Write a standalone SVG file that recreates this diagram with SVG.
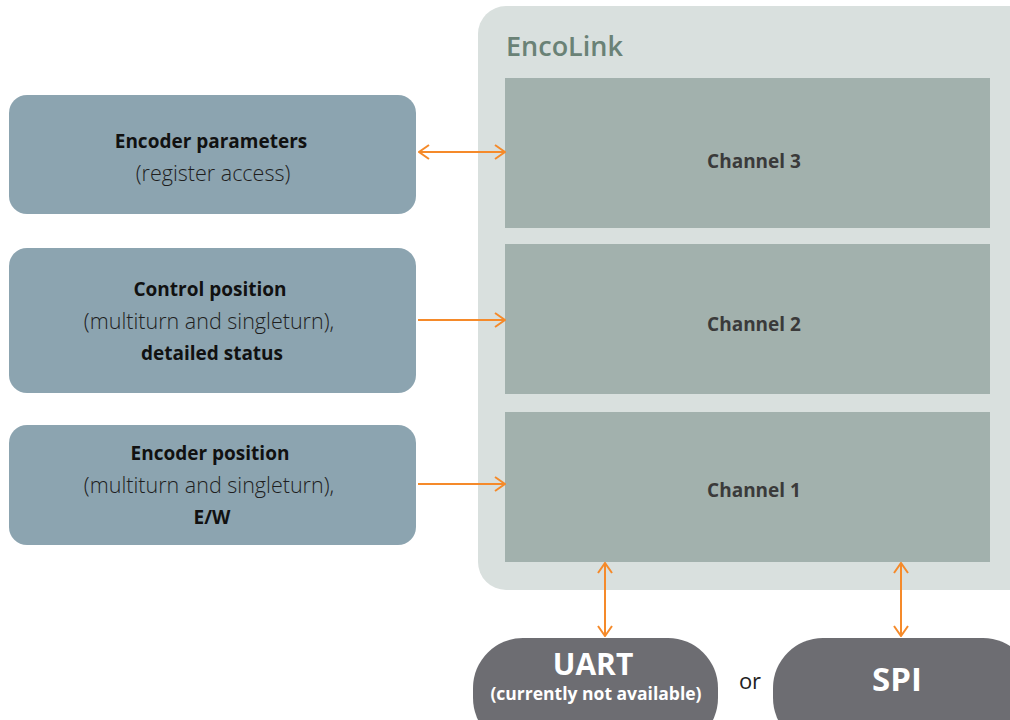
<svg xmlns="http://www.w3.org/2000/svg" width="1010" height="720" viewBox="0 0 1010 720">
<style>
text{font-family:"Open Sans","Noto Sans",sans-serif;text-anchor:middle}
.b{font-weight:700;fill:#111;font-size:19px}
.l{font-weight:300;fill:#1e1e1e;font-size:21.5px}
.ch{font-weight:700;fill:#3a3a3a;font-size:19px}
.box{fill:#8ca4b0}
.chan{fill:#a2b1ad}
.pill{fill:#6d6d72}
.pt{fill:#fff;font-weight:700}
.con{stroke:#f58a2a;stroke-width:2;fill:none}
</style>
<defs>
<marker id="ah" viewBox="0 0 12 16" refX="11" refY="8" markerWidth="12" markerHeight="16" markerUnits="userSpaceOnUse" orient="auto-start-reverse">
<path d="M1,1 L11,8 L1,15" fill="none" stroke="#f58a2a" stroke-width="2"/>
</marker>
</defs>
<g id="encolink">
<rect x="478" y="6" width="560" height="584" rx="28" fill="#d9e0de"/>
<text x="506" y="56" style="text-anchor:start;font-weight:600;font-size:27px;fill:#6a8276">EncoLink</text>
</g>
<g id="channel3"><rect class="chan" x="505" y="78" width="485" height="150"/><text class="ch" x="754" y="168">Channel 3</text></g>
<g id="channel2"><rect class="chan" x="505" y="244" width="485" height="150"/><text class="ch" x="754" y="331">Channel 2</text></g>
<g id="channel1"><rect class="chan" x="505" y="412" width="485" height="150"/><text class="ch" x="754" y="497">Channel 1</text></g>
<g id="params"><rect class="box" x="9" y="95" width="407" height="119" rx="18"/>
<text class="b" x="211" y="148">Encoder parameters</text>
<text class="l" x="213" y="181">(register access)</text></g>
<g id="control"><rect class="box" x="9" y="248" width="407" height="145" rx="18"/>
<text class="b" x="210" y="296">Control position</text>
<text class="l" x="209" y="329">(multiturn and singleturn),</text>
<text class="b" x="212" y="360">detailed status</text></g>
<g id="encpos"><rect class="box" x="9" y="425" width="407" height="120" rx="18"/>
<text class="b" x="210" y="460">Encoder position</text>
<text class="l" x="209" y="493">(multiturn and singleturn),</text>
<text class="b" x="212" y="524">E/W</text></g>
<g id="uart"><rect class="pill" x="473" y="638" width="245" height="110" rx="50"/>
<text class="pt" x="593" y="675" style="font-size:30px">UART</text>
<text class="pt" x="596" y="700" style="font-size:17.5px">(currently not available)</text></g>
<text x="750" y="689" style="font-size:22px;fill:#222">or</text>
<g id="spi"><rect class="pill" x="773" y="638" width="260" height="110" rx="50"/>
<text class="pt" x="897" y="691" style="font-size:33px">SPI</text></g>
<g id="connectors">
<line class="con" x1="419" y1="152" x2="505" y2="152" marker-start="url(#ah)" marker-end="url(#ah)"/>
<line class="con" x1="418" y1="320" x2="505" y2="320" marker-end="url(#ah)"/>
<line class="con" x1="418" y1="484" x2="505" y2="484" marker-end="url(#ah)"/>
<line class="con" x1="605" y1="563" x2="605" y2="636" marker-start="url(#ah)" marker-end="url(#ah)"/>
<line class="con" x1="901" y1="563" x2="901" y2="636" marker-start="url(#ah)" marker-end="url(#ah)"/>
</g>
</svg>
